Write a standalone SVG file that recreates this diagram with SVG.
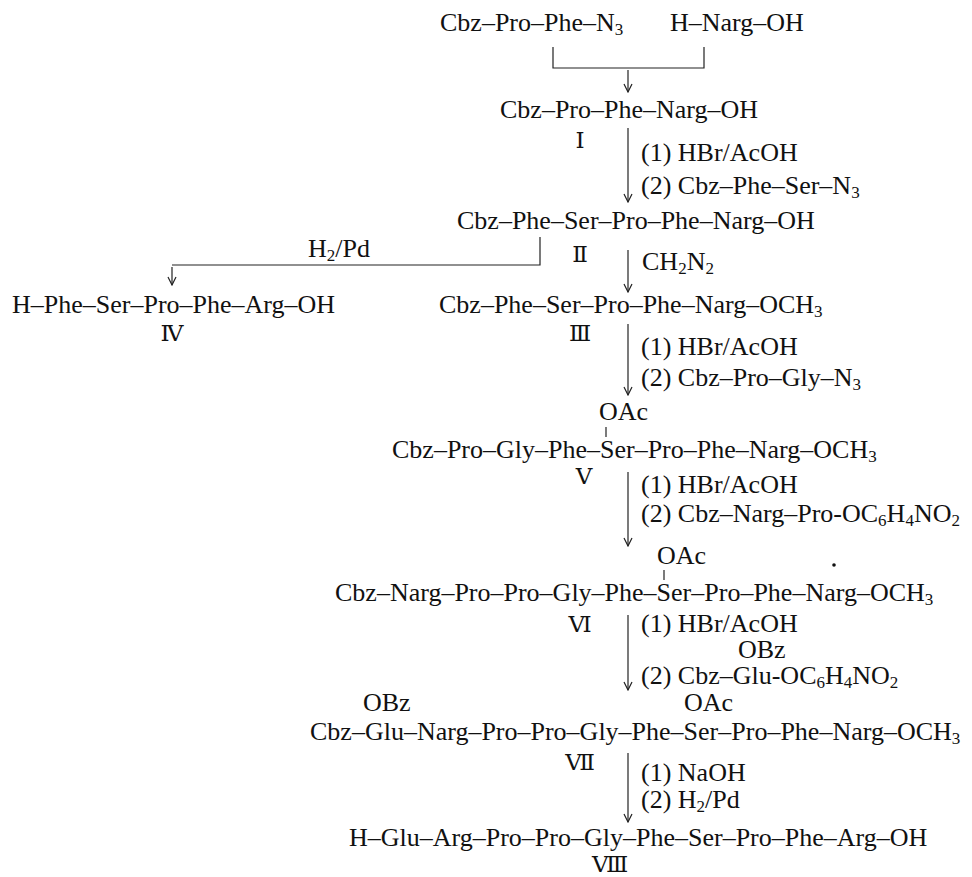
<svg xmlns="http://www.w3.org/2000/svg" width="972" height="877" viewBox="0 0 972 877">
<style>
text { font-family: "Liberation Serif", "Times New Roman", serif; font-size: 26px; fill: #111; }
.sub { font-size: 17px; }
.rn { font-family: "DejaVu Serif", "Noto Sans CJK JP", serif; font-size: 23px; text-anchor: middle; }
.ln { stroke: #222; stroke-width: 1.2; fill: none; }
.arr { stroke: #222; stroke-width: 1.2; fill: none; marker-end: url(#ah); }
</style>
<defs>
<marker id="ah" viewBox="-1 -5 10 10" refX="8" refY="0" markerWidth="10" markerHeight="10" markerUnits="userSpaceOnUse" orient="auto">
<path d="M0,-4 L8,0 L0,4" fill="none" stroke="#222" stroke-width="1.2"/>
</marker>
</defs>
<rect width="972" height="877" fill="#fff"/>

<g id="connectors">
<path class="ln" d="M553,47 V68 H704 V47"/>
<line class="arr" x1="628" y1="70" x2="628" y2="92"/>
<line class="arr" x1="628" y1="128" x2="628" y2="202"/>
<line class="arr" x1="628" y1="250" x2="628" y2="292"/>
<path class="ln" d="M540,237 V265 H172"/>
<line class="arr" x1="172" y1="267" x2="172" y2="285"/>
<line class="arr" x1="628" y1="324" x2="628" y2="395"/>
<line class="arr" x1="628" y1="472" x2="628" y2="546"/>
<line class="arr" x1="628" y1="615" x2="628" y2="690"/>
<line class="arr" x1="628" y1="753" x2="628" y2="822"/>
<line class="ln" x1="606" y1="427" x2="606" y2="437"/>
<line class="ln" x1="664" y1="570" x2="664" y2="580"/>
</g>

<g id="start-azide"><text x="440" y="31">Cbz–Pro–Phe–N<tspan class="sub" dy="4">3</tspan></text></g>
<g id="start-narg"><text x="670" y="31">H–Narg–OH</text></g>

<g id="cmpd-I">
<text x="500" y="118">Cbz–Pro–Phe–Narg–OH</text>
<text class="rn" x="580" y="148">Ⅰ</text>
</g>
<g id="step-1">
<text x="641" y="161">(1) HBr/AcOH</text>
<text x="641" y="194">(2) Cbz–Phe–Ser–N<tspan class="sub" dy="4">3</tspan></text>
</g>

<g id="cmpd-II">
<text x="457" y="229">Cbz–Phe–Ser–Pro–Phe–Narg–OH</text>
<text class="rn" x="580" y="262">Ⅱ</text>
</g>
<g id="step-2"><text x="642" y="270">CH<tspan class="sub" dy="4">2</tspan><tspan dy="-4">N</tspan><tspan class="sub" dy="4">2</tspan></text></g>
<g id="step-h2pd"><text x="308" y="257">H<tspan class="sub" dy="4">2</tspan><tspan dy="-4">/Pd</tspan></text></g>

<g id="cmpd-IV">
<text x="12" y="313">H–Phe–Ser–Pro–Phe–Arg–OH</text>
<text class="rn" x="172" y="341">Ⅳ</text>
</g>

<g id="cmpd-III">
<text x="439" y="313">Cbz–Phe–Ser–Pro–Phe–Narg–OCH<tspan class="sub" dy="4">3</tspan></text>
<text class="rn" x="580" y="341">Ⅲ</text>
</g>
<g id="step-3">
<text x="641" y="355">(1) HBr/AcOH</text>
<text x="641" y="386">(2) Cbz–Pro–Gly–N<tspan class="sub" dy="4">3</tspan></text>
</g>

<g id="cmpd-V">
<text x="599" y="420">OAc</text>
<text x="392" y="458">Cbz–Pro–Gly–Phe–Ser–Pro–Phe–Narg–OCH<tspan class="sub" dy="4">3</tspan></text>
<text class="rn" x="584" y="484">Ⅴ</text>
</g>
<g id="step-4">
<text x="641" y="493">(1) HBr/AcOH</text>
<text x="641" y="522">(2) Cbz–Narg–Pro-OC<tspan class="sub" dy="4">6</tspan><tspan dy="-4">H</tspan><tspan class="sub" dy="4">4</tspan><tspan dy="-4">NO</tspan><tspan class="sub" dy="4">2</tspan></text>
</g>

<g id="cmpd-VI">
<text x="657" y="564">OAc</text>
<circle cx="834" cy="565" r="1.8" fill="#111"/>
<text x="335" y="601">Cbz–Narg–Pro–Pro–Gly–Phe–Ser–Pro–Phe–Narg–OCH<tspan class="sub" dy="4">3</tspan></text>
<text class="rn" x="580" y="632">Ⅵ</text>
</g>
<g id="step-5">
<text x="641" y="632">(1) HBr/AcOH</text>
<text x="738" y="658">OBz</text>
<text x="641" y="684">(2) Cbz–Glu-OC<tspan class="sub" dy="4">6</tspan><tspan dy="-4">H</tspan><tspan class="sub" dy="4">4</tspan><tspan dy="-4">NO</tspan><tspan class="sub" dy="4">2</tspan></text>
</g>

<g id="cmpd-VII">
<text x="363" y="711">OBz</text>
<text x="684" y="711">OAc</text>
<text x="310" y="740">Cbz–Glu–Narg–Pro–Pro–Gly–Phe–Ser–Pro–Phe–Narg–OCH<tspan class="sub" dy="4">3</tspan></text>
<text class="rn" x="580" y="770">Ⅶ</text>
</g>
<g id="step-6">
<text x="641" y="781">(1) NaOH</text>
<text x="641" y="808">(2) H<tspan class="sub" dy="4">2</tspan><tspan dy="-4">/Pd</tspan></text>
</g>

<g id="cmpd-VIII">
<text x="349" y="846">H–Glu–Arg–Pro–Pro–Gly–Phe–Ser–Pro–Phe–Arg–OH</text>
<text class="rn" x="610" y="872">Ⅷ</text>
</g>
</svg>
